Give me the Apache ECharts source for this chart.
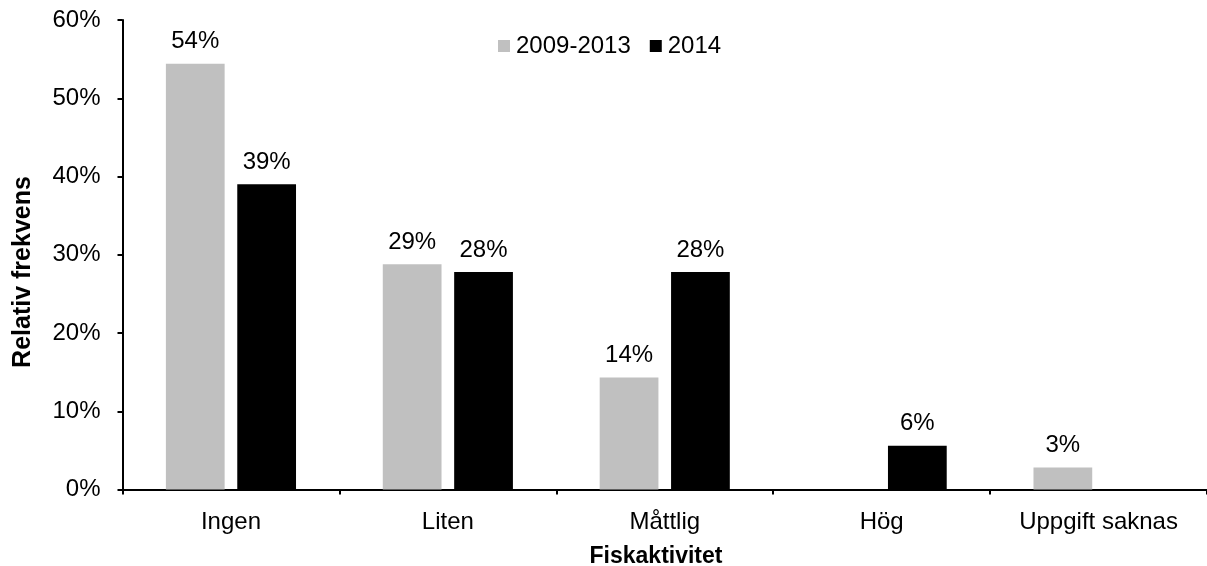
<!DOCTYPE html>
<html>
<head>
<meta charset="utf-8">
<script src="https://cdn.jsdelivr.net/npm/echarts@6/dist/echarts.min.js"></script>
<style>
  html, body { margin: 0; padding: 0; background: #fff; }
  #chart { width: 1207px; height: 566px; }
</style>
</head>
<body>
<div id="chart"></div>
<script>
// Fiskaktivitet – relativ frekvens per period
const categories = ['Ingen', 'Liten', 'Måttlig', 'Hög', 'Uppgift saknas'];
const seriesNames = ['2009-2013', '2014'];
const values2009_2013 = [0.544, 0.288, 0.143, null, 0.028];
const values2014 = [0.390, 0.278, 0.278, 0.056, null];
const yTicks = { min: 0, max: 0.6, interval: 0.1 };
const xTitle = 'Fiskaktivitet';
const yTitle = 'Relativ frekvens';

const FONT = '"Liberation Sans", Arial, sans-serif';
const pct = v => Math.round(v * 100) + '%';

const chart = echarts.init(document.getElementById('chart'), null, { renderer: 'canvas' });

const labelCfg = {
  show: true,
  position: 'top',
  distance: 10,
  color: '#000',
  fontFamily: FONT,
  fontSize: 24,
  formatter: p => pct(p.value)
};

chart.setOption({
  animation: false,
  backgroundColor: '#fff',
  textStyle: { fontFamily: FONT, color: '#000' },
  grid: { left: 122.5, right: -4, top: 20, bottom: 76.5, containLabel: false },
  legend: {
    data: seriesNames,
    left: 498,
    top: 34,
    padding: 0,
    itemWidth: 12,
    itemHeight: 12,
    itemGap: 19,
    icon: 'rect',
    textStyle: { fontFamily: FONT, fontSize: 24, color: '#000', padding: [0, 0, 0, 1] }
  },
  xAxis: {
    type: 'category',
    data: categories,
    axisLine: { lineStyle: { color: '#000', width: 2 } },
    axisTick: { show: true, length: 5, lineStyle: { color: '#000', width: 2 } },
    axisLabel: { color: '#000', fontFamily: FONT, fontSize: 24, margin: 21 },
    splitLine: { show: false }
  },
  yAxis: {
    type: 'value',
    min: yTicks.min,
    max: yTicks.max,
    interval: yTicks.interval,
    axisLine: { show: true, lineStyle: { color: '#000', width: 2 } },
    axisTick: { show: true, length: 5, lineStyle: { color: '#000', width: 2 } },
    axisLabel: { color: '#000', fontFamily: FONT, fontSize: 24, margin: 22, formatter: v => pct(v) },
    splitLine: { show: false }
  },
  graphic: [
    {
      type: 'text',
      x: 23,
      y: 272,
      rotation: Math.PI / 2,
      style: {
        text: yTitle,
        font: 'bold 25px ' + FONT,
        fill: '#000',
        align: 'center',
        verticalAlign: 'middle'
      },
      z: 10
    },
    {
      type: 'text',
      x: 656,
      y: 557,
      style: {
        text: xTitle,
        font: 'bold 23px ' + FONT,
        fill: '#000',
        align: 'center',
        verticalAlign: 'middle'
      },
      z: 10
    }
  ],
  series: [
    {
      name: seriesNames[0],
      type: 'bar',
      data: values2009_2013,
      barGap: '21.5%',
      barCategoryGap: '40%',
      itemStyle: { color: '#c0c0c0' },
      label: labelCfg
    },
    {
      name: seriesNames[1],
      type: 'bar',
      data: values2014,
      barGap: '21.5%',
      barCategoryGap: '40%',
      itemStyle: { color: '#000000' },
      label: labelCfg
    }
  ]
});
</script>
</body>
</html>
